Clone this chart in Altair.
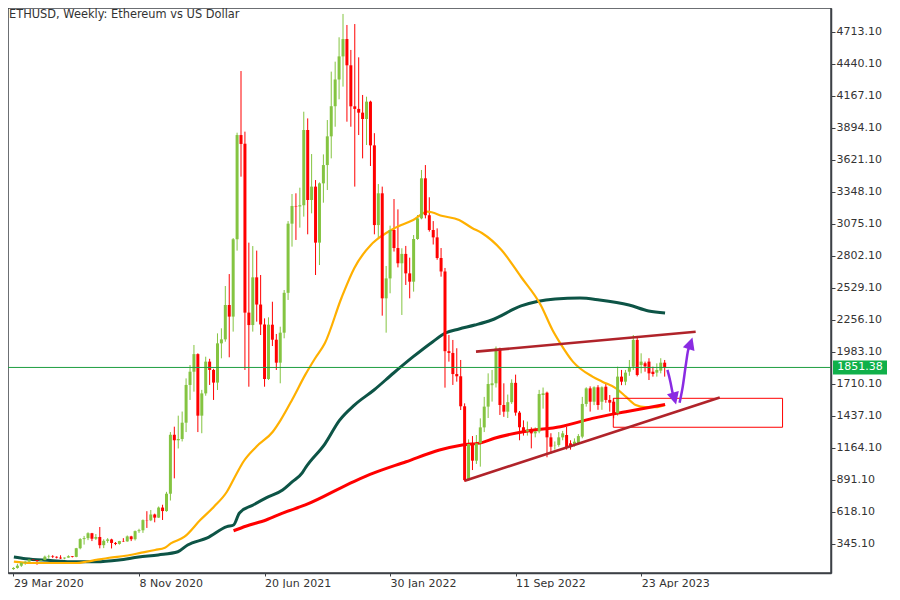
import altair as alt
import pandas as pd

# ---------------- weekly candles (week index 0 = 29 Mar 2020) ----------------
opens = [131, 141, 160, 186, 194, 213, 208, 200, 207, 237, 241, 236, 229, 222, 229, 241, 235, 309, 387, 395,
         437, 390, 405, 335, 372, 384, 354, 346, 370, 367, 410, 386, 455, 462, 549, 547, 597, 570, 656, 626,
         774, 1277, 1230, 1241, 1380, 1702, 1815, 1965, 1440, 1630, 1901, 1830, 1722, 2057, 2091, 2384, 2285, 2945, 3834, 3760,
         2319, 2213, 2620, 2388, 2218, 1753, 2216, 2088, 1892, 2148, 2488, 3078, 3229, 3225, 3235, 3877, 3280, 3394, 2916, 3422,
         3578, 3823, 4080, 4308, 4505, 4653, 4429, 4079, 4057, 4025, 3971, 4119, 3746, 3066, 3337, 2441, 2611, 3024, 2870, 2740,
         2820, 2654, 2583, 2947, 3123, 3465, 3150, 3024, 2961, 2785, 2670, 1990, 1975, 1795, 1776, 1520, 890, 1198, 1056, 1204,
         1340, 1517, 1700, 1716, 2014, 1531, 1474, 1555, 1720, 1466, 1341, 1304, 1320, 1289, 1305, 1616, 1636, 1255, 1188, 1190,
         1255, 1275, 1204, 1190, 1204, 1261, 1540, 1673, 1559, 1682, 1559, 1687, 1574, 1559, 1460, 1773, 1730, 1815, 1858, 2086,
         1872, 1887, 1901, 1815, 1807, 1824, 1892]
highs = [147, 176, 175, 198, 227, 216, 212, 215, 246, 253, 250, 240, 249, 230, 249, 242, 312, 395, 414, 445,
         440, 430, 490, 385, 395, 390, 362, 372, 395, 418, 415, 460, 475, 555, 625, 635, 604, 665, 680, 790,
         1300, 1346, 1440, 1475, 1758, 1872, 2043, 1972, 1660, 1943, 1925, 1840, 2142, 2185, 2546, 2648, 2955, 3854, 4380, 3863,
         2916, 2887, 2848, 2640, 2270, 2279, 2412, 2137, 2199, 2512, 3100, 3331, 3337, 3385, 4033, 3976, 3672, 3450, 3430, 3669,
         3962, 4375, 4460, 4668, 4867, 4773, 4560, 4781, 4497, 4176, 4161, 4127, 3850, 3416, 3394, 2717, 3061, 3288, 3200, 2868,
         2888, 2788, 2981, 3152, 3536, 3578, 3303, 3100, 3038, 2870, 2700, 2128, 2086, 2015, 1915, 1545, 1238, 1266, 1275, 1417,
         1600, 1801, 1830, 2030, 2020, 1716, 1620, 1750, 1790, 1480, 1400, 1390, 1340, 1340, 1660, 1680, 1645, 1290, 1220, 1300,
         1310, 1345, 1230, 1246, 1283, 1600, 1682, 1690, 1690, 1700, 1690, 1715, 1616, 1588, 1858, 1830, 1830, 1915, 2128, 2120,
         1972, 1901, 1930, 1858, 1886, 1930, 1915]
lows = [125, 135, 150, 168, 193, 199, 168, 198, 198, 220, 225, 222, 217, 215, 228, 230, 232, 300, 340, 378,
        370, 380, 308, 310, 355, 307, 335, 340, 363, 365, 370, 375, 440, 440, 482, 540, 530, 568, 550, 620,
        716, 905, 1160, 1220, 1300, 1574, 1645, 1300, 1290, 1610, 1702, 1574, 1659, 1929, 2071, 1938, 2157, 2848, 3479, 1830,
        1687, 2157, 2242, 2128, 1687, 1744, 2034, 1830, 1716, 2100, 2427, 2882, 2939, 3044, 3138, 2987, 3166, 2640, 2725, 3257,
        3365, 3635, 3905, 4139, 4247, 3948, 3905, 3394, 3834, 3635, 3749, 3570, 2987, 2950, 2293, 2148, 2484, 2840, 2705, 2299,
        2555, 2441, 2498, 2940, 3115, 3123, 3010, 2900, 2770, 2626, 1679, 1901, 1702, 1730, 1488, 877, 885, 976, 1028, 1005,
        1300, 1420, 1560, 1680, 1446, 1430, 1420, 1540, 1440, 1230, 1270, 1270, 1161, 1255, 1290, 1500, 1085, 1118, 1150, 1175,
        1230, 1150, 1150, 1176, 1190, 1247, 1517, 1475, 1530, 1490, 1490, 1550, 1474, 1417, 1440, 1700, 1700, 1780, 1830, 1775,
        1801, 1815, 1744, 1773, 1773, 1801, 1773]
closes = [141, 160, 186, 194, 213, 208, 200, 207, 237, 241, 236, 229, 222, 229, 241, 235, 309, 387, 395, 437,
          390, 405, 335, 372, 384, 354, 346, 370, 367, 410, 386, 455, 462, 549, 547, 597, 570, 656, 626, 774,
          1277, 1230, 1241, 1380, 1702, 1815, 1965, 1440, 1630, 1901, 1830, 1722, 2057, 2091, 2384, 2285, 2945, 3834, 3758, 2319,
          2213, 2620, 2388, 2218, 1753, 2216, 2088, 1892, 2148, 2488, 3078, 3229, 3225, 3235, 3877, 3280, 3394, 2916, 3422, 3578,
          3823, 4080, 4308, 4505, 4653, 4429, 4079, 4057, 4025, 3971, 4119, 3746, 3066, 3337, 2441, 2611, 3024, 2870, 2740, 2820,
          2654, 2583, 2947, 3123, 3465, 3150, 3024, 2961, 2785, 2670, 1990, 1975, 1795, 1776, 1520, 890, 1198, 1056, 1204, 1340,
          1517, 1710, 1716, 2014, 1531, 1474, 1555, 1720, 1466, 1341, 1304, 1320, 1289, 1305, 1625, 1630, 1255, 1175, 1190, 1255,
          1289, 1165, 1175, 1218, 1266, 1540, 1673, 1559, 1682, 1531, 1682, 1574, 1551, 1460, 1773, 1730, 1807, 1852, 2086, 1787,
          1901, 1860, 1801, 1795, 1830, 1892, 1852]

# ---------------- moving averages ----------------
ma50_week = [0.1, 4.4, 16.1, 18.6, 21.1, 24.4, 28.6, 32.6, 36.1, 38.6, 40.1, 43.6, 47.6, 51.1, 54.4, 56.9,
             58.6, 61.9, 66.1, 68.1, 71.1, 74.4, 76.9, 79.4, 83.6, 86.9, 91.1, 93.6, 96.9, 101.9, 105.6, 109.4, 113.6,
             116.9, 119.4, 124.4, 129.4, 134.4, 137.4, 139.4, 142.6, 147.6, 150.1, 153.6, 156.1, 158.6,
             161.1, 163.6, 166.1]
ma50_val = [194, 183, 183, 194, 209, 228, 245, 271, 294, 313, 350, 407, 549, 663, 791, 947,
            1047, 1175, 1303, 1402, 1580, 1790, 1930, 2060, 2444, 2700, 2896, 2967, 3035, 3109, 3180, 3143, 3109,
            3041, 2998, 2853, 2623, 2384, 2171, 2057, 1901, 1773, 1730, 1673, 1602, 1531,
            1512, 1512, 1531]

ma100_week = [0.1, 3.1, 9.4, 14.4, 21.1, 26.9, 31.9, 36.9, 41.9, 44.4, 49.4, 54.4, 56.1, 57.6, 61.1,
              64.4, 68.6, 71.1, 73.6, 74.4, 79.4, 83.1, 86.9, 91.9, 96.9, 101.9, 106.9, 110.1, 113.6,
              117.6, 121.9, 129.4, 138.1, 144.4, 149.4, 156.9, 161.9, 166.1]
ma100_val = [235, 220, 205, 194, 194, 209, 234, 252, 279, 337, 397, 493, 507, 610, 678,
             738, 806, 877, 951, 994, 1200, 1400, 1530, 1659, 1804, 1943, 2071, 2145, 2179,
             2213, 2256, 2376, 2435, 2444, 2427, 2384, 2333, 2316]

ma200_week = [56.1, 59.4, 64.4, 68.6, 74.4, 86.9, 91.9, 100.1, 108.6, 114.4, 119.4, 122.6, 131.1,
              139.4, 147.6, 156.1, 166.1]
ma200_val = [458, 499, 550, 609, 678, 880, 951, 1047, 1147, 1190, 1210, 1247, 1309,
             1346, 1417, 1474, 1536]

# ---------------- drawn objects ----------------
trend_w1 = [117.9, 115.05]
trend_p1 = [1986, 885]
trend_w2 = [173.9, 180.05]
trend_p2 = [2156, 1594]

zone_w = [152.9, 196.05]
zone_p = [1341, 1588]

arrow_down_w = [166.7, 167.45, 167.95, 168.3]
arrow_down_p = [1830, 1730, 1645, 1600]
arrow_up_w = [169.8, 170.6, 171.45, 172.05, 172.4]
arrow_up_p = [1551, 1687, 1887, 2006, 2020]
head_w = [168.5, 172.6]
head_p = [1586, 2057]
head_kind = ["down", "up"]

last_price = [1851.38]
last_label = ["1851.38"]

# ---------------- axes ----------------
x_tick_weeks = [0, 32, 64, 96, 128, 160]
x_tick_labels = ["29 Mar 2020", "8 Nov 2020", "20 Jun 2021", "30 Jan 2022", "11 Sep 2022", "23 Apr 2023"]
y_ticks = [345.1, 618.1, 891.1, 1164.1, 1437.1, 1710.1, 1983.1, 2256.1, 2529.1, 2802.1,
           3075.1, 3348.1, 3621.1, 3894.1, 4167.1, 4440.1, 4713.1]
title_text = "ETHUSD, Weekly:  Ethereum vs US Dollar"

UP = "#84C441"
DOWN = "#FF0000"
AXIS = "#3C4046"
FONT = "DejaVu Sans"

W, H = 823, 565
XDOM = [-0.125, 207.125]
YDOM = [97.69, 4917.85]

candles = pd.DataFrame({
    "week": list(range(len(opens))),
    "open": opens, "high": highs, "low": lows, "close": closes,
})
candles["dir"] = ["up" if c >= o else "down" for o, c in zip(opens, closes)]

label_js = "[" + ",".join("'" + s + "'" for s in x_tick_labels) + "]"
idx_js = "[" + ",".join(str(v) for v in x_tick_weeks) + "]"

xscale = alt.Scale(domain=XDOM, nice=False, zero=False)
yscale = alt.Scale(domain=YDOM, nice=False, zero=False)

x_axis = alt.Axis(values=x_tick_weeks, labelExpr=label_js + "[indexof(" + idx_js + ", datum.value)]",
                  title=None, grid=False, domainColor=AXIS, domainWidth=1.5, tickColor=AXIS,
                  tickSize=3, tickWidth=1, labelAlign="left", labelBaseline="top", labelPadding=1,
                  labelFont=FONT, labelFontSize=11, labelColor="#333333", labelOverlap=False,
                  labelFlush=False)
y_axis = alt.Axis(orient="right", values=y_ticks, format=".2f", title=None, grid=False,
                  domainColor=AXIS, domainWidth=1.5, tickColor=AXIS, tickSize=4, tickWidth=1,
                  labelAlign="left", labelBaseline="middle", labelPadding=1, labelFont=FONT,
                  labelFontSize=11, labelColor="#333333", labelOverlap=False, labelFlush=False)


def X(field):
    return alt.X(field, scale=xscale, axis=x_axis, title=None)


def Y(field):
    return alt.Y(field, scale=yscale, axis=y_axis, title=None)


color = alt.Color("dir:N", scale=alt.Scale(domain=["up", "down"], range=[UP, DOWN]), legend=None)

wicks = alt.Chart(candles).mark_rule(strokeWidth=1).encode(
    x=X("week:Q"), y=Y("low:Q"), y2="high:Q", color=color)
bodies = alt.Chart(candles).mark_bar(width=3).encode(
    x=X("week:Q"), y=Y("open:Q"), y2="close:Q", color=color)


def ma_layer(weeks, vals, col, sw):
    df = pd.DataFrame({"week": weeks, "price": vals})
    return alt.Chart(df).mark_line(color=col, strokeWidth=sw, interpolate="monotone").encode(
        x=X("week:Q"), y=Y("price:Q"))


ma50 = ma_layer(ma50_week, ma50_val, "#FFB000", 2.2)
ma100 = ma_layer(ma100_week, ma100_val, "#0D5446", 3)
ma200 = ma_layer(ma200_week, ma200_val, "#FF0000", 3)

price_df = pd.DataFrame({"price": last_price, "label": last_label})
price_line = alt.Chart(price_df).mark_rule(color="#1E9E40", strokeWidth=1).encode(y=Y("price:Q"))

trend_df = pd.DataFrame({"w1": trend_w1, "p1": trend_p1, "w2": trend_w2, "p2": trend_p2})
trends = alt.Chart(trend_df).mark_rule(color="#B0232A", strokeWidth=2.6).encode(
    x=X("w1:Q"), x2="w2:Q", y=Y("p1:Q"), y2="p2:Q")

zone_df = pd.DataFrame({"w1": [zone_w[0]], "w2": [zone_w[1]], "p1": [zone_p[0]], "p2": [zone_p[1]]})
zone = alt.Chart(zone_df).mark_rect(fill=None, fillOpacity=0, stroke="#FF0000", strokeWidth=1).encode(
    x=X("w1:Q"), x2="w2:Q", y=Y("p1:Q"), y2="p2:Q")

arrow_df = pd.DataFrame({
    "week": arrow_down_w + arrow_up_w,
    "price": arrow_down_p + arrow_up_p,
    "id": ["a"] * len(arrow_down_w) + ["b"] * len(arrow_up_w),
    "order": list(range(len(arrow_down_w))) + list(range(len(arrow_up_w))),
})
arrows = alt.Chart(arrow_df).mark_line(color="#8A2BE2", strokeWidth=2.5, interpolate="monotone").encode(
    x=X("week:Q"), y=Y("price:Q"), detail="id:N", order="order:Q")

head_df = pd.DataFrame({"week": head_w, "price": head_p, "kind": head_kind})
head_down = alt.Chart(head_df[head_df.kind == "down"]).mark_point(
    shape="M-1,-1L1,-1L0,1Z", size=150, filled=True, opacity=1, color="#8A2BE2", angle=345).encode(
    x=X("week:Q"), y=Y("price:Q"))
head_up = alt.Chart(head_df[head_df.kind == "up"]).mark_point(
    shape="M-1,1L1,1L0,-1Z", size=150, filled=True, opacity=1, color="#8A2BE2", angle=18).encode(
    x=X("week:Q"), y=Y("price:Q"))

tag_box = alt.Chart(price_df).mark_point(
    shape="M-1,-0.26L1,-0.26L1,0.26L-1,0.26Z", size=54 * 54, filled=True, opacity=1,
    color="#10B04A", strokeWidth=0).encode(x=alt.value(852), y=Y("price:Q"))
tag_text = alt.Chart(price_df).mark_text(
    font=FONT, fontSize=11, color="white", align="center", baseline="middle").encode(
    x=alt.value(852), y=Y("price:Q"), text="label:N")

title_df = pd.DataFrame({"t": [title_text]})
title = alt.Chart(title_df).mark_text(
    font=FONT, fontSize=11.4, color="#333333", align="left", baseline="top").encode(
    x=alt.value(1), y=alt.value(1), text="t:N")

chart = alt.layer(
    wicks, ma100, ma50, ma200, bodies, price_line, zone, trends, arrows, head_down, head_up,
    tag_box, tag_text, title,
).properties(
    width=W, height=H,
    padding={"left": 0, "top": 0, "right": 60, "bottom": 15},
    autosize=alt.AutoSizeParams(type="none"),
    background="white",
).configure_view(stroke=AXIS, strokeWidth=1.5)

chart.save("out.html", embed_options={"renderer": "svg", "actions": False})
